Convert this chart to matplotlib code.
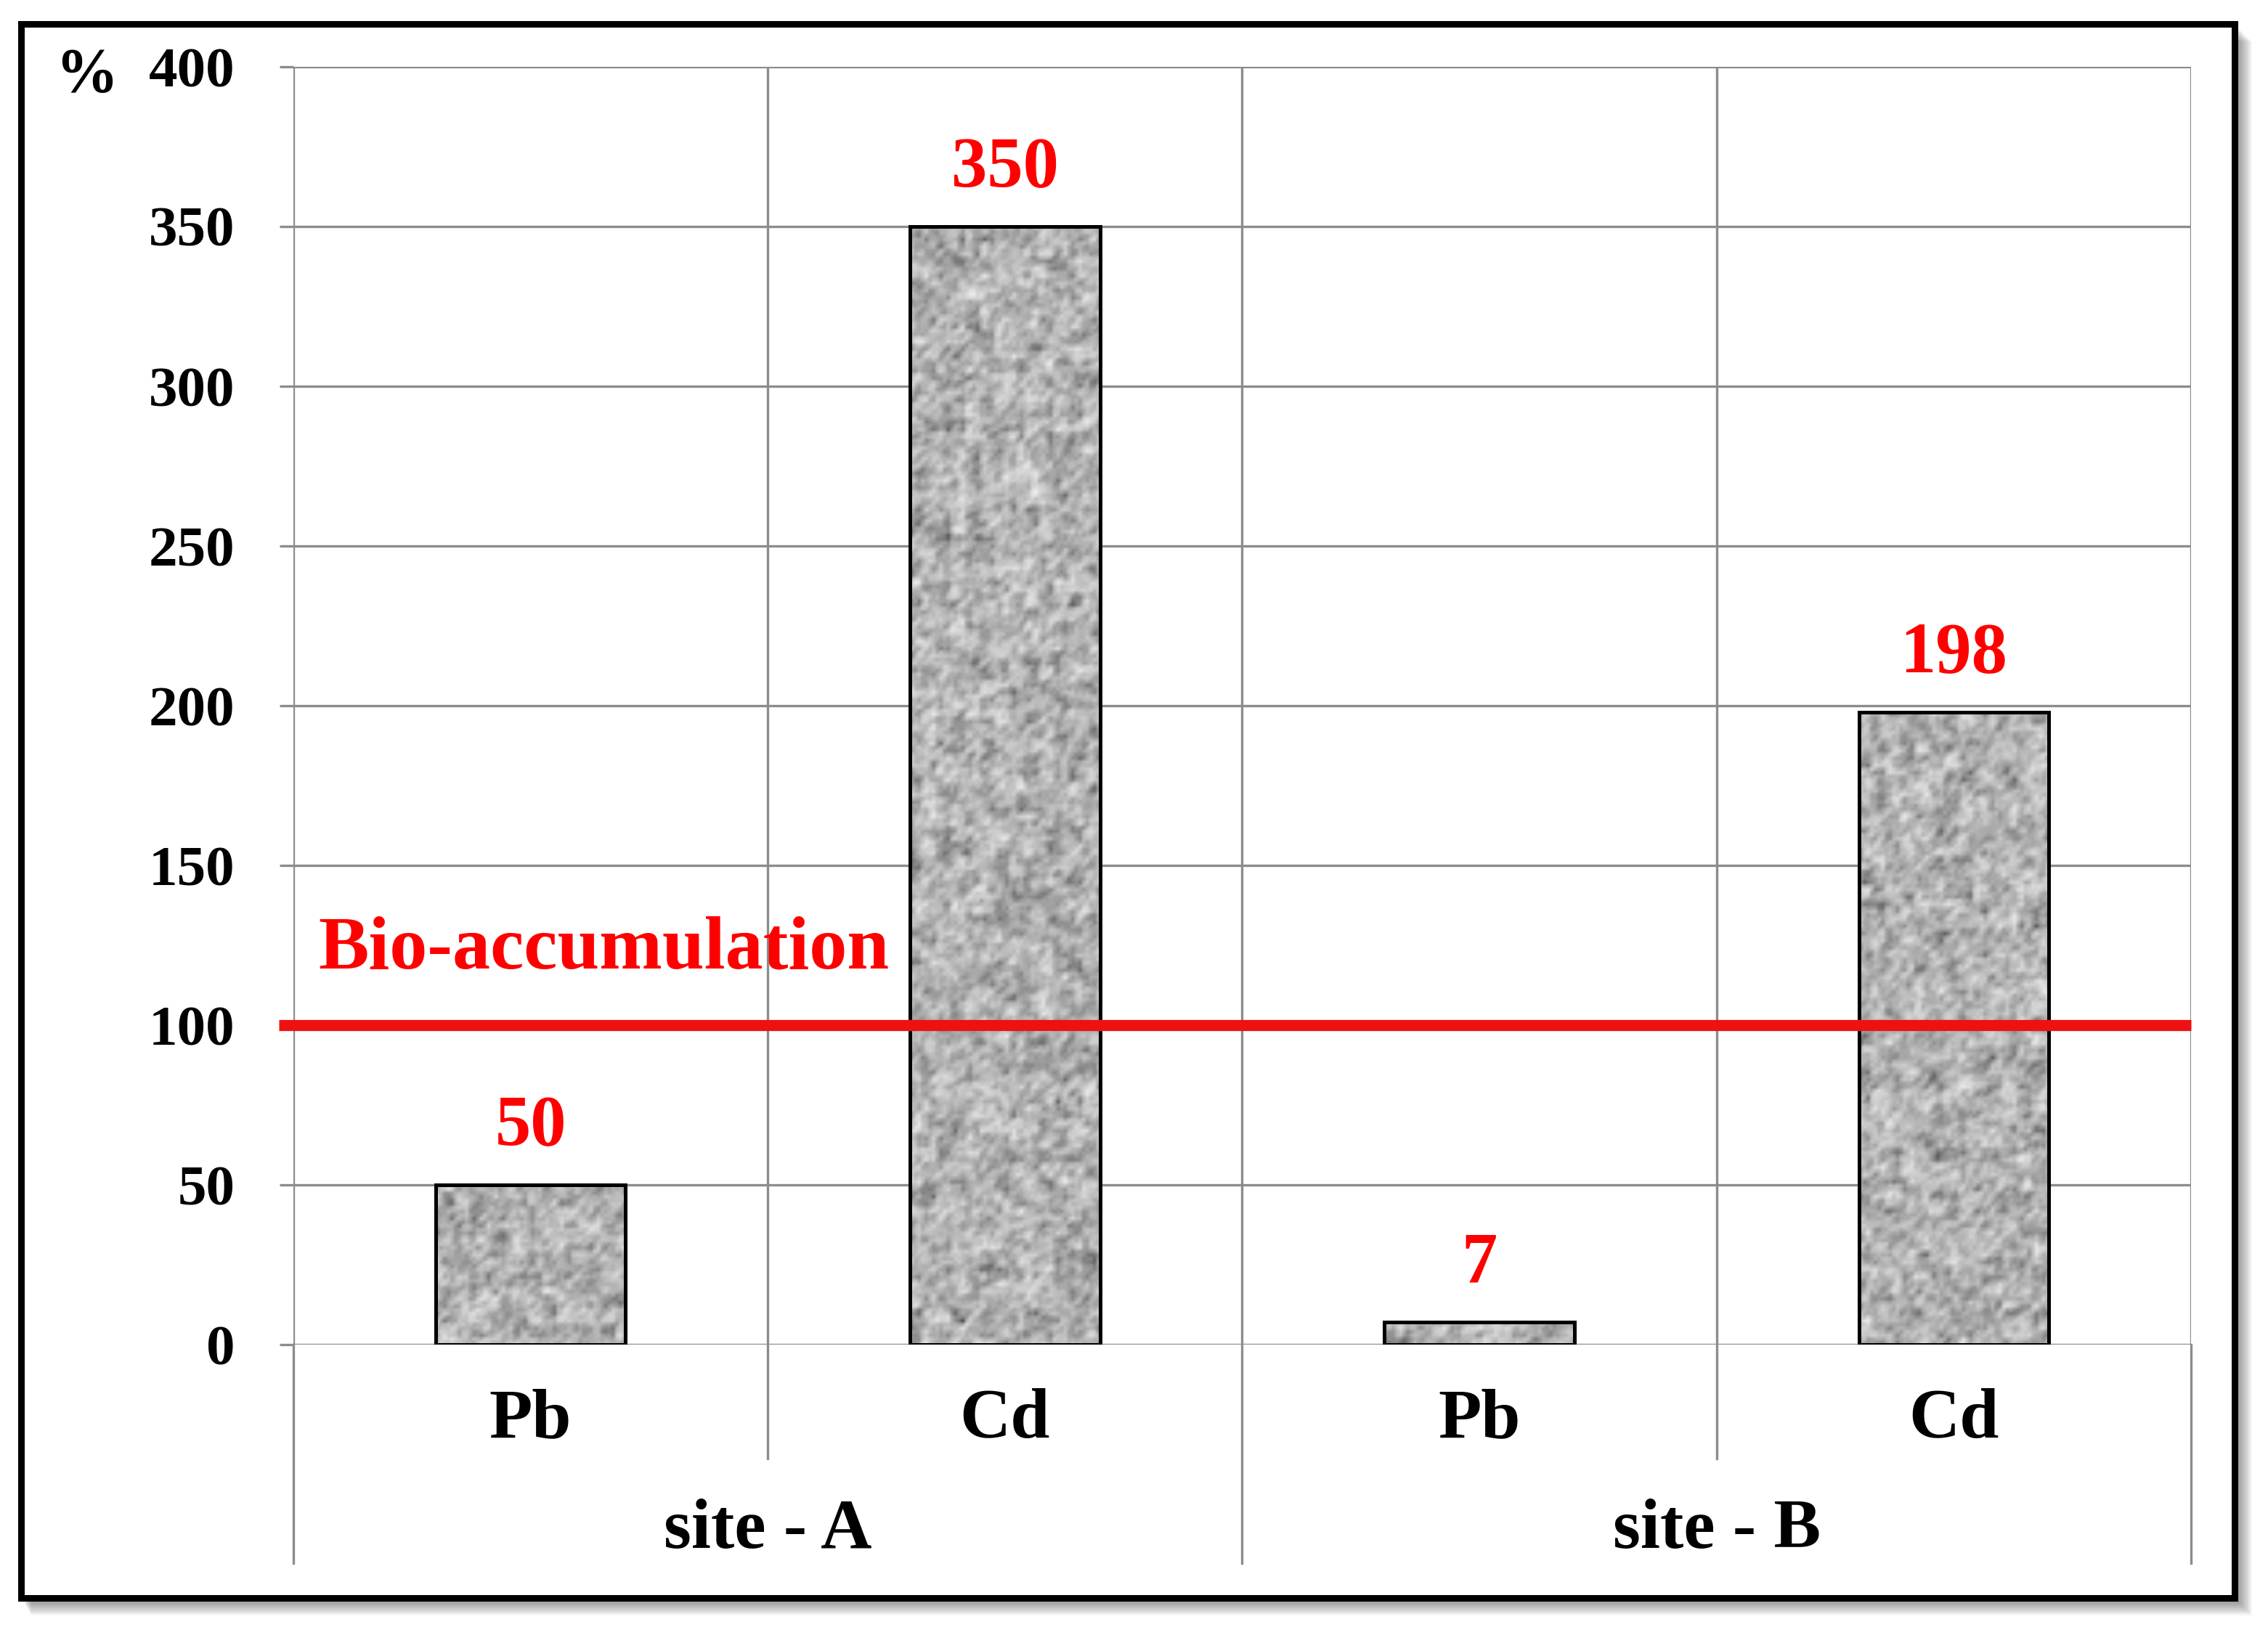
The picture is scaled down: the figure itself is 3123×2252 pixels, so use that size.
import numpy as np
import matplotlib
matplotlib.use('Agg')
import matplotlib.pyplot as plt
from matplotlib.patches import Rectangle
from matplotlib.transforms import blended_transform_factory

# %%
# chart values
sites = ['site - A', 'site - B']
metals = ['Pb', 'Cd', 'Pb', 'Cd']
values = [50, 350, 7, 198]
value_labels = ['50', '350', '7', '198']
threshold = 100
threshold_label = 'Bio-accumulation'
yticks = [0, 50, 100, 150, 200, 250, 300, 350, 400]

plt.rcParams['font.family'] = ['Liberation Serif', 'DejaVu Serif']
plt.rcParams['font.weight'] = 'bold'

W, H = 3123, 2252
fig = plt.figure(figsize=(W / 100, H / 100), dpi=100)
fig.patch.set_facecolor('white')

# %%
# outer frame with a soft drop shadow
fx0, fx1, fy0, fy1 = 28.5, 3076.5, 32.5, 2200.5
for k in range(14, 0, -1):
    off = 2 + k * 1.6
    fig.patches.append(Rectangle(((fx0 + off * 0.6) / W, (H - fy1 - off) / H),
                                 (fx1 - fx0 + off * 0.4) / W, (fy1 - fy0) / H,
                                 transform=fig.transFigure, facecolor='black',
                                 edgecolor='none', alpha=0.035, zorder=-3))
fig.patches.append(Rectangle((fx0 / W, (H - fy1) / H), (fx1 - fx0) / W,
                             (fy1 - fy0) / H, transform=fig.transFigure,
                             facecolor='white', edgecolor='black',
                             linewidth=6.5, zorder=-1))

# %%
ax = fig.add_axes([404 / W, 1 - 1852 / H, (3017 - 404) / W, (1852 - 92) / H])
ax.patch.set_visible(False)
x = np.arange(len(metals))
ax.set_xlim(-0.5, len(metals) - 0.5)
ax.set_ylim(0, 400)

grid_c = '#8c8c8c'
for y in yticks:
    ax.axhline(y, color=grid_c, lw=2.4, zorder=1)
for xb in np.arange(-0.5, len(metals), 1.0):
    ax.axvline(xb, color=grid_c, lw=2.4, zorder=1)

for s in ax.spines.values():
    s.set_visible(False)

ax.set_yticks(yticks)
ax.set_yticklabels([str(t) for t in yticks], fontsize=57, fontweight='bold')
ax.tick_params(axis='y', length=14, width=2.4, color=grid_c, pad=44)
ax.set_xticks([])

# granite fill texture for the bars (decoration only)
ny, nx = 350, 520
ii, jj = np.mgrid[0:ny, 0:nx]
def hash_noise(a, b, s):
    v = np.sin(a * 12.9898 + b * 78.233 + s) * 43758.5453
    return v - np.floor(v)
fine = hash_noise(ii, jj, 1.0)
mid = hash_noise(ii // 2, jj // 2, 3.0)
coarse = hash_noise(ii // 4, jj // 4, 7.0)
tex = 0.4 * fine + 0.35 * mid + 0.25 * coarse
# soften a little
tex = (tex + np.roll(tex, 1, 0) + np.roll(tex, 1, 1)) / 3
tex = (tex - tex.min()) / (tex.max() - tex.min())
tex = np.clip(0.26 + 0.7 * tex ** 0.65, 0, 1)

bars = ax.bar(x, values, width=0.4, facecolor='#b0b0b0', edgecolor='black',
              linewidth=3.6, zorder=3)
for b in bars:
    im = ax.imshow(tex, cmap='gray', vmin=0, vmax=1, extent=(-0.5, 3.5, 0, 400),
                   aspect='auto', interpolation='bilinear', zorder=3.5)
    im.set_clip_path(b)
    b.set_facecolor('none')
    b.set_zorder(4)

for xi, v, lab in zip(x, values, value_labels):
    ax.text(xi, v + 18, lab, ha='center', va='center', color='red',
            fontsize=71, fontweight='bold')

# threshold line
ax.plot([-0.53, 3.5], [threshold, threshold], color='#ee1111', lw=11,
        clip_on=False, zorder=5, solid_capstyle='butt')
ax.text(-0.448, 123.5, threshold_label, ha='left', va='center', color='red',
        fontsize=75, fontweight='bold')

# category and site labels below the plot
trans = blended_transform_factory(ax.transData, ax.transAxes)
for xb in [-0.5, 1.5, 3.5]:
    ax.plot([xb, xb], [0, -0.171], color=grid_c, lw=2.4, transform=trans,
            clip_on=False)
for xb in [0.5, 2.5]:
    ax.plot([xb, xb], [0, -0.089], color=grid_c, lw=2.4, transform=trans,
            clip_on=False)
for xi, m in zip(x, metals):
    ax.text(xi, -0.0594, m, ha='center', va='center', transform=trans,
            fontsize=70, fontweight='bold')
for k, s in enumerate(sites):
    ax.text(0.5 + 2 * k, -0.146, s, ha='center', va='center', transform=trans,
            fontsize=70, fontweight='bold')

pt = blended_transform_factory(fig.transFigure, ax.transData)
ax.text(119 / W, 397, '%', ha='center', va='center', transform=pt,
        fontsize=62, fontweight='bold')

fig.savefig('out.png', dpi=100)
